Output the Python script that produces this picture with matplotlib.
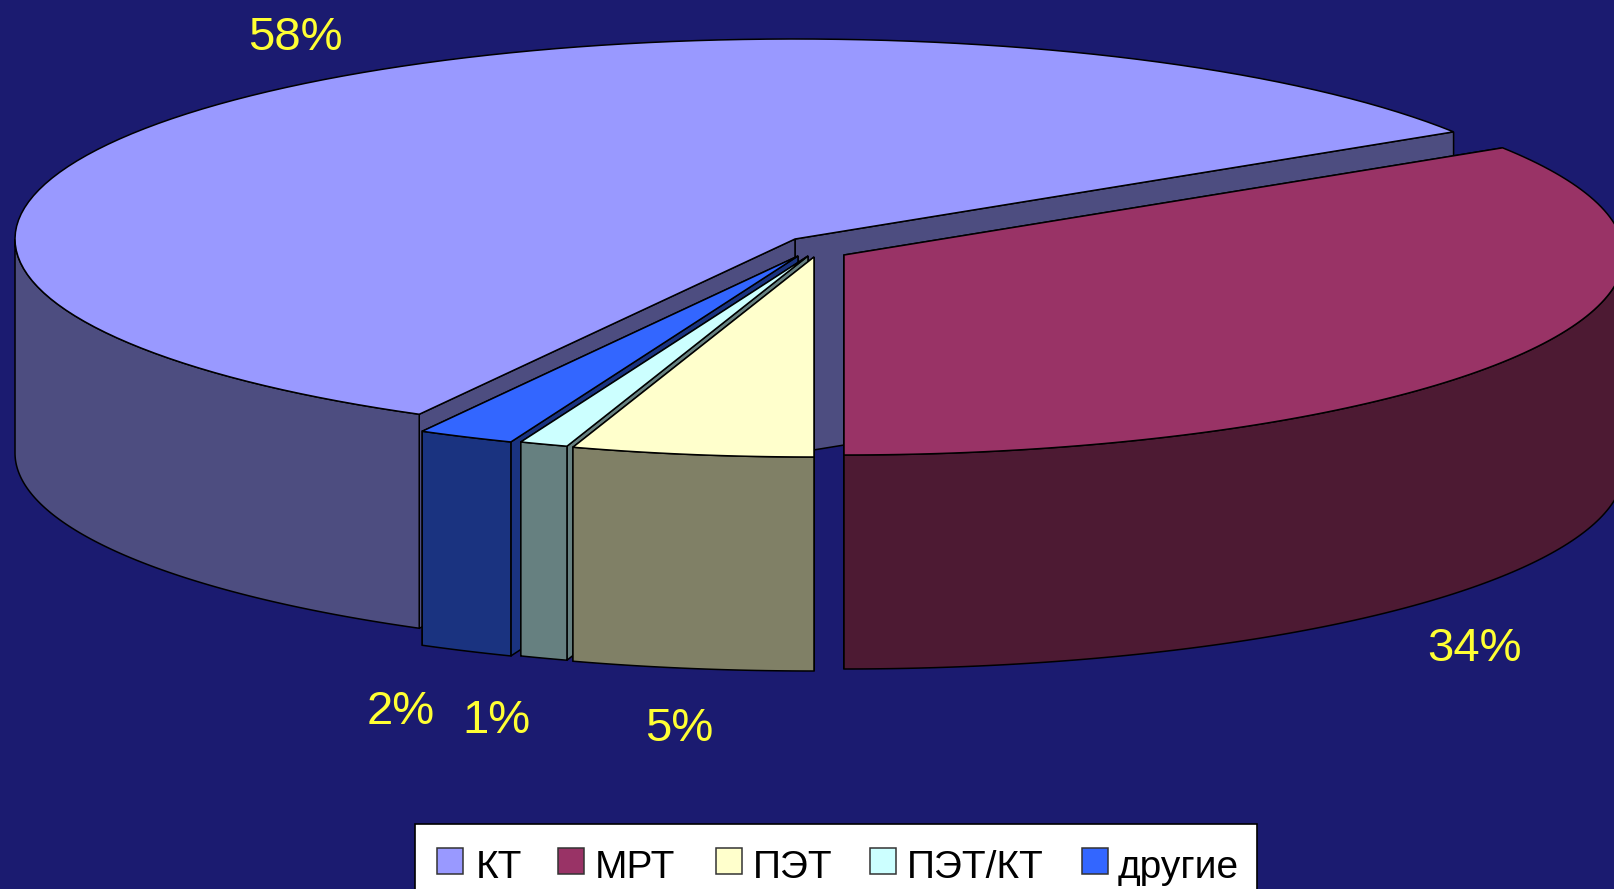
import numpy as np
import matplotlib
matplotlib.use("Agg")
import matplotlib.pyplot as plt
from matplotlib.patches import Polygon, Rectangle

categories = ["КТ", "МРТ", "ПЭТ", "ПЭТ/КТ", "другие"]
values = [58, 34, 5, 1, 2]

top_colors = ["#9999ff", "#993366", "#ffffcc", "#ccffff", "#3366ff"]
side_colors = ["#4d4d80", "#4d1a33", "#808066", "#668080", "#1a3380"]
background = "#1b1b70"
label_color = "#ffff33"

# pie geometry in pixels
rx = 780
ry = 200
depth = 214
start_angle = 241.2

# where the tip of each slice sits once pulled out of the pie
tips = [(795, 239), (844, 255), (814, 257), (808, 256), (798, 256)]
# back to front
draw_order = [0, 4, 3, 2, 1]

label_pos = [(295, 38), (1474, 649), (679, 729), (496, 721), (401, 712)]
legend_swatch_x = [437, 558, 716, 870, 1082]
legend_text_x = [476, 595, 753, 907, 1118]


def arc(tip, t1, t2, n=120):
    t = np.radians(np.linspace(t1, t2, n))
    x = tip[0] + rx * np.cos(t)
    y = tip[1] - ry * np.sin(t)
    return np.column_stack([x, y])


def add_poly(ax, pts, color, z):
    ax.add_patch(Polygon(pts, closed=True, facecolor=color, edgecolor="black",
                         linewidth=1.1, joinstyle="miter", zorder=z))


def draw_slice(ax, tip, t1, t2, top, side, z):
    # t1 > t2, slices run clockwise
    edge = arc(tip, t1, t2)
    down = np.array([0, depth])
    tip = np.array(tip, dtype=float)

    # cut faces, the one on the far end first
    for p in (edge[-1], edge[0]):
        add_poly(ax, [tip, p, p + down, tip + down], side, z)

    # outer rim, only the part that looks towards the viewer
    lo = t2
    hi = t1
    if t1 > 180:
        lo, hi = max(t2, 180), t1
    else:
        hi = min(t1, 0)
    if hi > lo:
        rim = arc(tip, hi, lo)
        add_poly(ax, np.vstack([rim, (rim + down)[::-1]]), side, z + 0.1)

    add_poly(ax, np.vstack([[tip], edge]), top, z + 0.2)


fig = plt.figure(figsize=(16.14, 8.89), dpi=100, facecolor=background)
ax = fig.add_axes([0, 0, 1, 1])
ax.set_xlim(0, 1614)
ax.set_ylim(889, 0)
ax.axis("off")

sweeps = np.array(values) * 3.6
ends = start_angle - np.cumsum(sweeps)
begins = ends + sweeps

for n, i in enumerate(draw_order):
    draw_slice(ax, tips[i], begins[i], ends[i], top_colors[i], side_colors[i], 2 + n)

for v, (x, y) in zip(values, label_pos):
    ax.text(x, y, f"{v}%", color=label_color, fontsize=34, ha="center", va="center",
            family="Liberation Sans", zorder=20)

# legend box runs off the bottom edge
ax.add_patch(Rectangle((415, 824), 842, 80, facecolor="white", edgecolor="black",
                       linewidth=1.2, zorder=20))
for i, name in enumerate(categories):
    ax.add_patch(Rectangle((legend_swatch_x[i], 848), 26, 26, facecolor=top_colors[i],
                           edgecolor="#333333", linewidth=1.1, zorder=21))
    ax.text(legend_text_x[i], 878, name, color="black", fontsize=28, ha="left",
            va="baseline", family="Liberation Sans", zorder=21)

fig.savefig("out.png", dpi=100, facecolor=background)
